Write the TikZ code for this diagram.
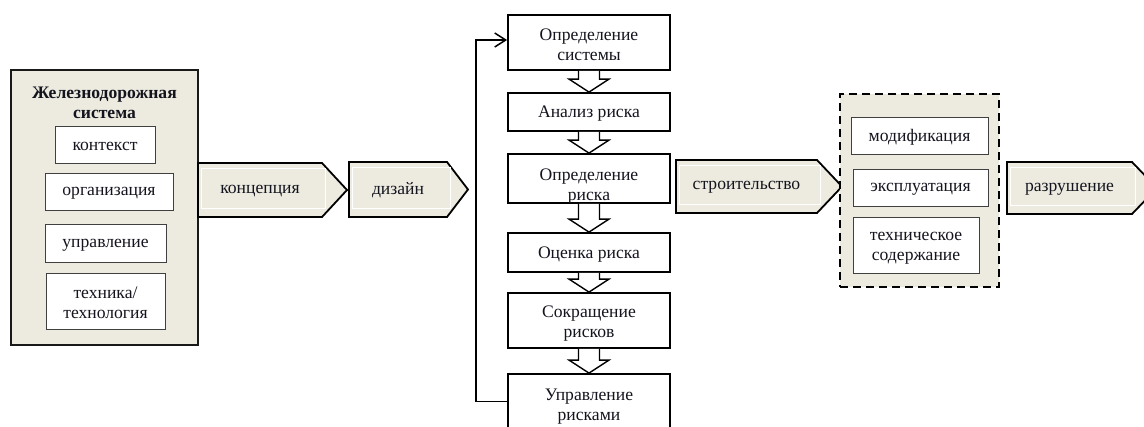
\documentclass[tikz,border=0pt]{standalone}
\usepackage{fontspec}
\setmainfont{Liberation Serif}
\usetikzlibrary{arrows.meta,calc}
\definecolor{beige}{RGB}{237,235,224}
\definecolor{ink}{RGB}{20,20,30}
\tikzset{
  txt/.style={font=\fontsize{17.6}{20}\selectfont, text=ink, align=center, inner sep=0pt},
  bigbox/.style={draw=black!90, line width=1.8pt, fill=beige, inner sep=0pt},
  inbox/.style={draw=black!75, line width=1pt, fill=white, inner sep=0pt},
  stepbox/.style={draw=black, line width=1.8pt, fill=white, inner sep=0pt, minimum width=162pt},
  dashbox/.style={draw=black, line width=1.8pt, dash pattern=on 8pt off 5pt, fill=beige, inner sep=0pt},
  stageline/.style={draw=black, line width=1.8pt, fill=beige, line join=miter},
  hollow/.style={draw=black, line width=1.4pt, fill=white, line join=miter},
  fb/.style={draw=black, line width=1.5pt, -{Straight Barb[length=11pt,width=14pt,line width=1.5pt]}}
}
% box node with its text node: style, name, centre, width, height, text, text shift
\newcommand\bx[7]{%
  \node[#1, minimum width=#4pt, minimum height=#5pt] (#2) at (#3) {};
  \begin{scope}
    \clip ([xshift=1pt,yshift=1pt]#2.south west) rectangle ([xshift=-1pt,yshift=-1pt]#2.north east);
    \node[txt] (#2-t) at ([yshift=-#7pt]#2.center) {#6};
  \end{scope}
}
\newcommand\stagearr[7]{%
  \draw[stageline] (#2,#3) -- (#4,#3) -- (#6,{(#3+#5)/2}) -- (#4,#5) -- (#2,#5) -- cycle;
  \draw[white, line width=0.9pt] (#2+3,#3+5.5) rectangle (#4+3,#5-9);
  \node[txt] (#1) at ({(#2+#4)/2},{(#3+#5)/2+1}) {#7};
}
\newcommand\hollowarr[2]{%
  \draw[hollow] let \p1=(#1.south), \p2=(#2.north) in
    (\x1-10.5pt,\y1) -- (\x1-10.5pt,\y2+13pt) -- (\x1-20pt,\y2+13pt) -- (\x1,\y2)
    -- (\x1+20pt,\y2+13pt) -- (\x1+10.5pt,\y2+13pt) -- (\x1+10.5pt,\y1);
}
\begin{document}
\begin{tikzpicture}[x=1pt,y=-1pt]
\useasboundingbox (0,0) rectangle (1144,426);
\clip (0,0) rectangle (1144,426);

% left system box
\node[bigbox, minimum width=187pt, minimum height=275pt] (rs) at (104.5,207.5) {};
\node[txt, font=\fontsize{17.6}{20}\selectfont\bfseries] (rst) at (104.5,103) {Железнодорожная\\система};
\bx{inbox}{ctx}{105,144.5}{100}{37}{контекст}{2}
\bx{inbox}{org}{109,191.5}{128}{37}{организация}{2}
\bx{inbox}{upr}{105.5,243}{121}{38}{управление}{2}
\bx{inbox}{teh}{105.5,301}{119}{56}{техника/\\технология}{2}

% stage arrows
\stagearr{konc}{198}{163}{322}{217}{347}{концепция}
\stagearr{diz}{349}{162}{447}{217}{468}{дизайн}
\stagearr{str}{676}{160}{817}{213}{842}{строительство}

% centre column
\bx{stepbox}{ds}{589,42.5}{162}{55}{Определение\\системы}{2.5}
\bx{stepbox}{ar}{589,112}{162}{38}{Анализ риска}{2}
\bx{stepbox}{dr}{589,178.5}{162}{49}{Определение\\риска}{8}
\bx{stepbox}{ocr}{589,252.5}{162}{39}{Оценка риска}{2}
\bx{stepbox}{sr}{589,320.5}{162}{55}{Сокращение\\рисков}{3}
\bx{stepbox}{ur}{589,401.5}{162}{55}{Управление\\рисками}{5.5}

\hollowarr{ds}{ar}
\hollowarr{ar}{dr}
\hollowarr{dr}{ocr}
\hollowarr{ocr}{sr}
\hollowarr{sr}{ur}

\draw[fb] (ur.west) -- ++(-31,0) |- ([yshift=2.5pt]ds.west);

% operation phase
\node[dashbox, minimum width=159pt, minimum height=193pt] (op) at (919.5,190.5) {};
\bx{inbox}{mod}{919.5,135.5}{137}{37}{модификация}{2}
\bx{inbox}{eks}{920.5,187.5}{135}{37}{эксплуатация}{1.5}
\bx{inbox}{tso}{916,245}{126}{56}{техническое\\содержание}{3}

\stagearr{raz}{1007}{162}{1132}{214}{1157}{разрушение}
\end{tikzpicture}
\end{document}
